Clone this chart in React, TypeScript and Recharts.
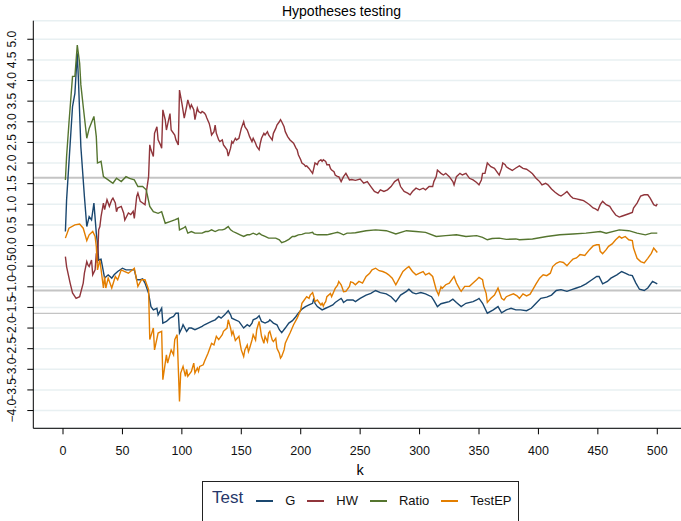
import { CartesianGrid, Label, Line, LineChart, ReferenceLine, XAxis, YAxis } from "recharts";

const seriesNames = ["G", "HW", "Ratio", "TestEP"];
const seriesColors = ["#1a476f", "#90353b", "#55752f", "#e37e00"];
const xTicks = [0, 50, 100, 150, 200, 250, 300, 350, 400, 450, 500];
const yTicks = [-4, -3.5, -3, -2.5, -2, -1.5, -1, -0.5, 0, 0.5, 1, 1.5, 2, 2.5, 3, 3.5, 4, 4.5, 5];
const criticalLines = [1.645, -1.09, -1.645];

// [k, statistic]
const gPoints: [number, number][] = [
  [2, 0.34], [3, 1.1], [8, 3.37], [10, 3.69], [12, 4.66], [13, 4.0], [15, 2.4], [18, 1.19], [20, 0.46], [22, 0.7],
  [24, 0.62], [26, 1.03], [28, 0.3], [29, 0.05], [30, -0.35], [32, -0.33], [35, -0.79], [38, -0.71], [41, -0.79], [43, -0.71],
  [46, -0.63], [50, -0.55], [53, -0.59], [56, -0.59], [60, -0.59], [62, -0.83], [65, -0.83], [67, -0.81], [69, -0.91], [72, -1.16],
  [74, -1.48], [76, -1.56], [79, -1.52], [80, -1.68], [83, -1.52], [84, -1.88], [87, -1.84], [90, -1.76], [93, -1.72], [95, -1.64],
  [97, -1.64], [98, -2.12], [100, -2.0], [101, -1.92], [104, -2.08], [106, -2.0], [108, -2.0], [111, -2.04], [114, -2.0], [117, -1.96],
  [119, -1.92], [122, -1.88], [125, -1.84], [128, -1.8], [131, -1.72], [133, -1.76], [136, -1.68], [139, -1.58], [141, -1.68], [142, -1.76],
  [145, -1.8], [148, -1.84], [149, -1.88], [152, -2.0], [155, -1.92], [157, -1.96], [159, -1.88], [160, -1.8], [163, -1.76], [165, -1.7],
  [167, -1.84], [170, -1.88], [173, -1.84], [174, -1.8], [177, -1.88], [180, -1.92], [182, -2.04], [184, -2.11], [187, -2.0], [190, -1.88],
  [193, -1.82], [196, -1.72], [198, -1.64], [201, -1.54], [204, -1.48], [207, -1.44], [210, -1.4], [211, -1.28], [212, -1.4], [214, -1.48],
  [215, -1.5], [218, -1.56], [221, -1.52], [224, -1.48], [227, -1.44], [229, -1.38], [232, -1.32], [234, -1.28], [235, -1.32], [236, -1.38],
  [239, -1.32], [241, -1.32], [244, -1.32], [246, -1.36], [250, -1.28], [255, -1.2], [259, -1.16], [263, -1.09], [267, -1.14], [272, -1.17],
  [276, -1.24], [280, -1.36], [284, -1.2], [289, -1.11], [291, -1.06], [294, -1.14], [297, -1.17], [301, -1.14], [305, -1.17], [310, -1.24],
  [312, -1.33], [315, -1.48], [318, -1.41], [322, -1.38], [325, -1.36], [328, -1.3], [331, -1.38], [335, -1.48], [339, -1.4], [345, -1.36],
  [348, -1.32], [350, -1.28], [353, -1.4], [357, -1.64], [362, -1.56], [366, -1.48], [369, -1.63], [373, -1.56], [377, -1.52], [381, -1.56],
  [385, -1.56], [390, -1.58], [394, -1.52], [398, -1.4], [402, -1.28], [407, -1.25], [411, -1.2], [415, -1.09], [419, -1.07], [424, -1.11],
  [428, -1.07], [432, -1.03], [436, -0.99], [440, -0.93], [445, -0.83], [449, -0.75], [451, -0.75], [454, -0.93], [458, -0.87], [461, -0.79],
  [466, -0.71], [470, -0.63], [473, -0.67], [476, -0.71], [479, -0.73], [482, -0.91], [485, -1.06], [489, -1.09], [492, -1.03], [496, -0.87],
  [498, -0.9], [500, -0.93],
];

const hwPoints: [number, number][] = [
  [2, -0.27], [3, -0.51], [6, -0.91], [8, -1.15], [11, -1.28], [14, -1.24], [17, -0.91], [18, -0.67], [20, -0.39], [21, -0.47],
  [22, -0.51], [24, -0.35], [25, -0.71], [27, -0.59], [28, -0.19], [29, -0.43], [30, 0.38], [31, 0.46], [32, 0.7], [34, 1.03],
  [35, 0.87], [37, 1.11], [39, 0.95], [41, 1.11], [42, 1.15], [44, 1.03], [45, 0.82], [46, 0.91], [49, 0.95], [51, 0.79],
  [52, 0.62], [55, 0.79], [57, 0.75], [59, 0.83], [60, 0.66], [62, 1.19], [63, 1.27], [65, 1.07], [67, 1.03], [69, 0.99],
  [70, 1.27], [72, 1.67], [73, 2.44], [74, 2.32], [76, 2.16], [77, 2.72], [79, 2.88], [80, 2.56], [82, 2.44], [83, 2.36],
  [84, 3.29], [86, 3.05], [87, 2.8], [90, 3.2], [91, 2.8], [94, 2.68], [95, 2.56], [97, 2.44], [98, 3.77], [100, 3.45],
  [102, 3.09], [104, 3.37], [105, 3.53], [107, 3.33], [108, 3.41], [110, 3.29], [111, 3.05], [113, 3.33], [114, 3.25], [116, 3.21],
  [117, 3.25], [119, 3.21], [120, 3.17], [121, 3.09], [123, 2.96], [124, 2.84], [125, 2.68], [127, 2.76], [128, 2.92], [129, 2.72],
  [131, 2.56], [132, 2.52], [134, 2.56], [135, 2.44], [136, 2.4], [138, 2.32], [139, 2.17], [141, 2.36], [142, 2.52], [143, 2.48],
  [145, 2.6], [146, 2.56], [148, 2.6], [149, 2.72], [150, 2.84], [152, 3.0], [153, 2.88], [155, 2.8], [156, 2.72], [157, 2.64],
  [159, 2.52], [160, 2.6], [162, 2.48], [163, 2.4], [165, 2.32], [166, 2.48], [167, 2.6], [169, 2.72], [170, 2.68], [172, 2.76],
  [173, 2.68], [174, 2.64], [176, 2.56], [177, 2.72], [179, 2.84], [180, 2.92], [182, 3.0], [183, 3.05], [184, 3.0], [186, 2.88],
  [187, 2.76], [189, 2.64], [191, 2.56], [194, 2.48], [196, 2.36], [197, 2.32], [198, 2.2], [200, 2.08], [201, 2.0], [203, 1.96],
  [204, 1.92], [205, 1.93], [207, 1.87], [208, 1.83], [210, 1.75], [211, 1.87], [212, 2.0], [214, 1.96], [215, 2.04], [217, 2.08],
  [218, 2.04], [219, 2.08], [221, 2.04], [222, 1.96], [224, 1.96], [225, 1.87], [226, 1.83], [228, 1.79], [229, 1.71], [231, 1.67],
  [232, 1.67], [234, 1.55], [235, 1.61], [236, 1.67], [238, 1.75], [241, 1.59], [243, 1.6], [246, 1.58], [250, 1.61], [253, 1.51],
  [256, 1.55], [259, 1.43], [262, 1.31], [265, 1.27], [267, 1.35], [270, 1.31], [273, 1.35], [276, 1.43], [279, 1.55], [282, 1.61],
  [284, 1.43], [287, 1.31], [290, 1.27], [292, 1.23], [294, 1.31], [297, 1.39], [300, 1.35], [303, 1.39], [305, 1.35], [308, 1.43],
  [311, 1.43], [312, 1.55], [314, 1.67], [315, 1.83], [318, 1.75], [320, 1.71], [322, 1.75], [325, 1.67], [328, 1.55], [329, 1.47],
  [331, 1.67], [334, 1.75], [336, 1.71], [339, 1.75], [342, 1.63], [345, 1.59], [348, 1.53], [350, 1.47], [352, 1.59], [353, 1.75],
  [355, 1.75], [357, 2.0], [360, 1.91], [363, 1.87], [366, 1.75], [367, 1.71], [369, 1.87], [370, 2.0], [372, 1.96], [373, 1.91],
  [375, 1.87], [378, 1.82], [381, 1.88], [384, 1.93], [387, 1.87], [390, 1.85], [393, 1.79], [395, 1.74], [398, 1.63], [401, 1.55],
  [403, 1.47], [406, 1.51], [408, 1.47], [411, 1.37], [414, 1.29], [417, 1.23], [419, 1.2], [422, 1.26], [424, 1.31], [427, 1.2],
  [429, 1.15], [432, 1.13], [435, 1.11], [438, 1.09], [441, 1.03], [443, 0.99], [446, 0.91], [448, 0.89], [450, 0.85], [452, 0.99],
  [454, 1.07], [457, 0.99], [460, 0.95], [462, 0.86], [465, 0.74], [468, 0.69], [470, 0.71], [473, 0.74], [476, 0.77], [479, 0.8],
  [480, 0.91], [483, 1.03], [486, 1.2], [489, 1.23], [492, 1.23], [494, 1.15], [497, 0.99], [499, 0.96], [500, 1.01],
];

const ratioPoints: [number, number][] = [
  [2, 1.59], [3, 2.16], [5, 2.97], [8, 4.1], [10, 4.1], [12, 4.86], [14, 4.42], [15, 3.9], [17, 3.37], [20, 2.6],
  [22, 2.84], [26, 3.13], [28, 2.64], [29, 2.0], [32, 2.04], [34, 1.67], [38, 1.59], [40, 1.55], [42, 1.51], [45, 1.63],
  [49, 1.55], [53, 1.67], [56, 1.63], [60, 1.59], [63, 1.43], [67, 1.43], [70, 1.35], [73, 0.95], [76, 0.82], [80, 0.78],
  [83, 0.82], [86, 0.54], [90, 0.58], [94, 0.62], [97, 0.66], [98, 0.38], [101, 0.42], [103, 0.46], [105, 0.3], [108, 0.34],
  [111, 0.3], [114, 0.3], [117, 0.3], [120, 0.34], [122, 0.34], [125, 0.38], [128, 0.34], [131, 0.38], [134, 0.38], [136, 0.4],
  [139, 0.46], [141, 0.38], [143, 0.34], [146, 0.3], [149, 0.26], [152, 0.22], [155, 0.26], [157, 0.26], [160, 0.3], [163, 0.26],
  [165, 0.3], [167, 0.26], [170, 0.22], [173, 0.18], [176, 0.18], [179, 0.18], [182, 0.14], [184, 0.07], [187, 0.1], [190, 0.15],
  [193, 0.22], [195, 0.22], [198, 0.26], [201, 0.27], [204, 0.3], [207, 0.3], [210, 0.32], [211, 0.28], [214, 0.26], [217, 0.26],
  [220, 0.26], [222, 0.26], [225, 0.28], [228, 0.3], [231, 0.32], [233, 0.3], [236, 0.26], [239, 0.3], [242, 0.3], [246, 0.31],
  [255, 0.36], [263, 0.38], [272, 0.36], [280, 0.28], [289, 0.36], [297, 0.34], [305, 0.32], [314, 0.22], [322, 0.24], [331, 0.26],
  [339, 0.22], [348, 0.24], [353, 0.2], [357, 0.14], [361, 0.17], [367, 0.18], [373, 0.15], [381, 0.16], [384, 0.14], [395, 0.16],
  [407, 0.22], [418, 0.26], [429, 0.28], [440, 0.3], [452, 0.34], [457, 0.3], [468, 0.38], [476, 0.36], [483, 0.3], [490, 0.26],
  [495, 0.3], [500, 0.3],
];

const testEpPoints: [number, number][] = [
  [2, 0.18], [5, 0.42], [10, 0.5], [14, 0.52], [17, 0.42], [20, 0.12], [22, 0.26], [25, 0.34], [27, 0.22], [28, -0.02],
  [29, -0.59], [31, -0.35], [34, -1.03], [35, -0.75], [36, -1.03], [38, -0.79], [41, -1.03], [44, -0.75], [46, -0.83], [49, -0.59],
  [52, -0.63], [55, -0.67], [60, -0.55], [63, -0.99], [66, -0.83], [69, -0.83], [72, -1.07], [73, -2.28], [76, -2.0], [77, -2.53],
  [80, -2.12], [83, -2.08], [84, -3.25], [87, -2.65], [88, -2.85], [91, -2.53], [93, -2.65], [94, -2.28], [96, -2.16], [98, -3.78],
  [99, -3.09], [101, -2.93], [103, -3.17], [104, -3.0], [105, -3.17], [108, -3.05], [110, -2.85], [111, -3.09], [113, -2.97], [114, -3.05],
  [115, -2.93], [118, -2.89], [119, -2.81], [122, -2.61], [125, -2.37], [127, -2.41], [129, -2.2], [131, -2.28], [134, -2.16], [135, -2.08],
  [138, -2.0], [139, -1.8], [141, -2.0], [142, -2.16], [143, -2.08], [145, -2.3], [148, -2.2], [149, -2.37], [150, -2.53], [152, -2.69],
  [153, -2.53], [155, -2.41], [156, -2.57], [157, -2.49], [159, -2.29], [160, -2.16], [162, -2.29], [163, -2.04], [165, -1.84], [166, -2.0],
  [167, -2.2], [169, -2.37], [170, -2.2], [172, -2.33], [173, -2.12], [174, -2.08], [176, -2.29], [177, -2.33], [179, -2.25], [180, -2.49],
  [182, -2.61], [183, -2.73], [184, -2.69], [186, -2.53], [187, -2.37], [189, -2.24], [191, -2.12], [194, -1.92], [197, -1.76], [200, -1.56],
  [201, -1.4], [203, -1.32], [205, -1.24], [207, -1.28], [208, -1.2], [210, -1.14], [211, -1.24], [212, -1.36], [214, -1.32], [217, -1.44],
  [218, -1.4], [219, -1.47], [220, -1.4], [221, -1.36], [222, -1.24], [225, -1.16], [226, -1.24], [229, -1.04], [231, -0.96], [232, -0.87],
  [234, -0.95], [235, -1.03], [236, -1.12], [238, -1.11], [241, -0.99], [242, -0.88], [244, -0.9], [246, -0.95], [249, -0.87], [252, -0.91],
  [255, -0.75], [258, -0.67], [260, -0.59], [263, -0.55], [266, -0.61], [269, -0.63], [272, -0.67], [274, -0.71], [277, -0.79], [280, -0.95],
  [283, -0.79], [286, -0.63], [289, -0.55], [291, -0.51], [294, -0.63], [297, -0.71], [300, -0.67], [303, -0.63], [305, -0.71], [308, -0.67],
  [311, -0.75], [314, -1.07], [316, -1.2], [318, -1.0], [319, -1.04], [322, -0.95], [325, -0.91], [328, -0.79], [329, -0.75], [331, -0.91],
  [334, -1.07], [335, -1.11], [338, -0.99], [342, -0.99], [345, -0.91], [348, -0.83], [350, -0.77], [353, -0.83], [354, -0.99], [356, -1.16],
  [357, -1.38], [360, -1.28], [363, -1.2], [366, -1.03], [369, -1.28], [371, -1.32], [373, -1.24], [376, -1.2], [379, -1.17], [382, -1.22],
  [384, -1.28], [387, -1.17], [390, -1.22], [393, -1.18], [395, -1.08], [398, -0.93], [401, -0.79], [404, -0.71], [407, -0.73], [410, -0.67],
  [412, -0.51], [415, -0.43], [418, -0.39], [421, -0.41], [424, -0.49], [427, -0.39], [429, -0.33], [432, -0.3], [435, -0.22], [439, -0.24],
  [443, -0.1], [446, -0.01], [449, 0.02], [451, 0.02], [452, -0.14], [454, -0.2], [457, -0.1], [459, -0.02], [462, 0.04], [465, 0.14],
  [468, 0.22], [470, 0.18], [473, 0.22], [476, 0.14], [479, 0.12], [480, -0.06], [483, -0.31], [486, -0.39], [489, -0.42], [492, -0.31],
  [495, -0.19], [497, -0.06], [500, -0.17],
];

const seriesPoints = [gPoints, hwPoints, ratioPoints, testEpPoints];

const FONT = '"Liberation Sans", Arial, Helvetica, sans-serif';

function formatY(v: number) {
  return v.toFixed(1).replace("-", "\u2212");
}

function YTick({ x, y, payload }: any) {
  const cx = x - 13.3;
  return (
    <text
      x={cx}
      y={y}
      transform={`rotate(-90 ${cx} ${y})`}
      textAnchor="middle"
      dominantBaseline="central"
      fontSize={12}
      fill="#111"
      fontFamily={FONT}
    >
      {formatY(payload.value)}
    </text>
  );
}

export default function App() {
  return (
    <div
      style={{
        position: "absolute",
        left: 0,
        top: 0,
        width: 681,
        height: 521,
        overflow: "hidden",
        background: "#fff",
        fontFamily: FONT,
      }}
    >
      <div
        style={{
          position: "absolute",
          top: 3,
          left: 0,
          width: 683,
          textAlign: "center",
          fontSize: 14,
          lineHeight: "16px",
          color: "#000",
        }}
      >
        Hypotheses testing
      </div>
      <LineChart width={700} height={521} margin={{ top: 20.7, right: 13, bottom: 32.7, left: 0 }}>
        <CartesianGrid vertical={false} stroke="#e8f0f2" strokeWidth={1.5} />
        <XAxis
          type="number"
          dataKey="k"
          domain={[-25, 525]}
          ticks={xTicks}
          interval={0}
          height={60}
          tickSize={6}
          tickMargin={12}
          tick={{ fontSize: 12.5, fill: "#111", fontFamily: FONT }}
          axisLine={{ stroke: "#000", strokeWidth: 1 }}
          tickLine={{ stroke: "#000", strokeWidth: 1 }}
          allowDataOverflow
        >
          <Label value="k" position="insideTop" offset={36} fontSize={14.5} fill="#000" fontFamily={FONT} />
        </XAxis>
        <YAxis
          type="number"
          domain={[-4.43, 5.45]}
          ticks={yTicks}
          interval={0}
          width={33.3}
          tickSize={6}
          tick={<YTick />}
          axisLine={{ stroke: "#000", strokeWidth: 1 }}
          tickLine={{ stroke: "#000", strokeWidth: 1 }}
          allowDataOverflow
        />
        {criticalLines.map((v, i) => (
          <ReferenceLine key={v} y={v} stroke="#c4c4c4" strokeWidth={i === 2 ? 1.2 : 2} />
        ))}
        {seriesPoints.map((pts, i) => (
          <Line
            key={seriesNames[i]}
            name={seriesNames[i]}
            data={pts.map(([k, v]) => ({ k, v }))}
            dataKey="v"
            type="linear"
            stroke={seriesColors[i]}
            strokeWidth={1.4}
            dot={false}
            activeDot={false}
            isAnimationActive={false}
          />
        ))}
      </LineChart>
      <div
        style={{
          position: "absolute",
          left: 202,
          top: 481,
          width: 317,
          height: 50,
          border: "1px solid #222",
          boxSizing: "border-box",
        }}
      >
        <div style={{ display: "flex", alignItems: "center", height: 37, paddingLeft: 9 }}>
          <span style={{ fontSize: 17, color: "#26376a", marginRight: 13, position: "relative", top: -3 }}>Test</span>
          {seriesNames.map((name, i) => (
            <span key={name} style={{ display: "flex", alignItems: "center", marginRight: 12 }}>
              <span style={{ display: "inline-block", width: 17, height: 2, background: seriesColors[i] }} />
              <span style={{ fontSize: 13, color: "#111", marginLeft: 12 }}>{name}</span>
            </span>
          ))}
        </div>
      </div>
    </div>
  );
}
